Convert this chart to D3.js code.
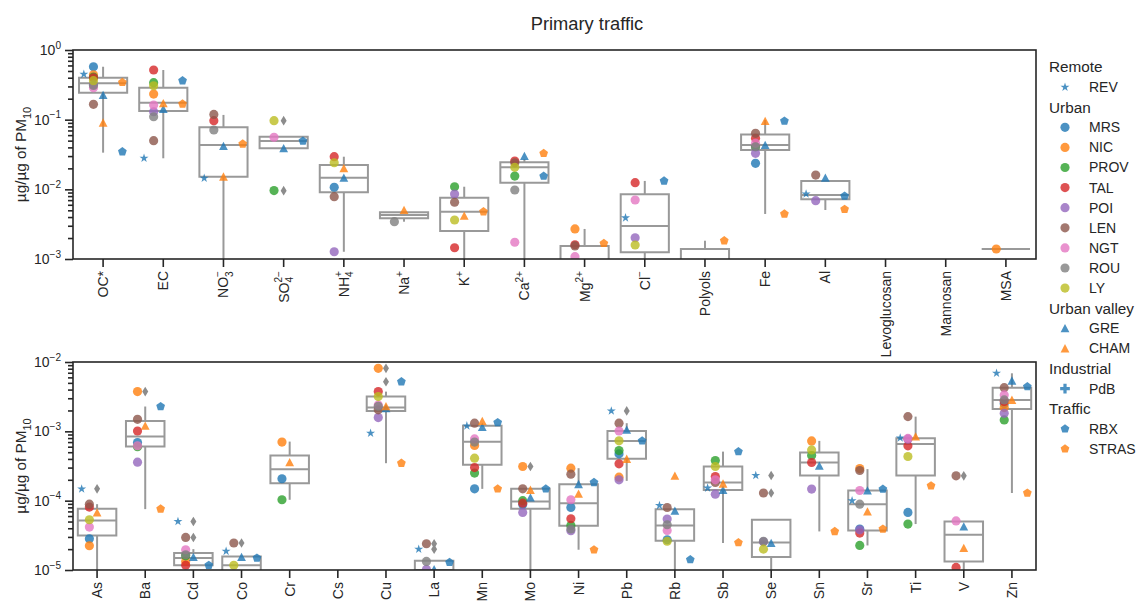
<!DOCTYPE html>
<html>
<head>
<meta charset="utf-8">
<script src="https://cdn.jsdelivr.net/npm/d3@7"></script>
<style>
  body { margin: 0; background: #fff; }
  text { font-family: "Liberation Sans", Arial, sans-serif; fill: #262626; }
</style>
</head>
<body>
<div id="chart"></div>
<script>
'use strict';

// categories + tick label pieces (sub / sup) for the two panels
const topCats = ["OC*", "EC", "NO", "SO", "NH", "Na", "K", "Ca", "Mg", "Cl", "Polyols", "Fe", "Al", "Levoglucosan", "Mannosan", "MSA"];
const topSub  = ["", "", "3", "4", "4", "", "", "", "", "", "", "", "", "", "", ""];
const topSup  = ["", "", "\u2212", "2\u2212", "+", "+", "+", "2+", "2+", "\u2212", "", "", "", "", "", ""];
const botCats = ["As", "Ba", "Cd", "Co", "Cr", "Cs", "Cu", "La", "Mn", "Mo", "Ni", "Pb", "Rb", "Sb", "Se", "Sn", "Sr", "Ti", "V", "Zn"];

const topTicks = [1e-3, 1e-2, 1e-1, 1];
const topTickExp = ["\u22123", "\u22122", "\u22121", "0"];
const botTicks = [1e-5, 1e-4, 1e-3, 1e-2];
const botTickExp = ["\u22125", "\u22124", "\u22123", "\u22122"];

// box statistics (q1, median, q3, whisker low, whisker high) + fliers
const topQ1  = [0.244, 0.133, 0.0152, 0.0388, 0.00906, 0.00383, 0.00252, 0.01245, 0.0006, 0.00125, 0.0005, 0.0367, 0.0072, null, null, 0.00139];
const topMed = [0.333, 0.175, 0.0433, 0.0494, 0.0147, 0.00428, 0.00478, 0.0207, 0.0009, 0.00298, 0.0008, 0.0433, 0.00829, null, null, 0.00139];
const topQ3  = [0.40, 0.288, 0.0776, 0.057, 0.0223, 0.00468, 0.00759, 0.0244, 0.00154, 0.00848, 0.00139, 0.0615, 0.0132, null, null, 0.00139];
const topLo  = [0.0336, 0.0279, 0.0002, 0.0388, 0.00127, 0.00343, 0.0002, 0.0002, 0.0002, 0.0002, 0.0002, 0.00443, 0.00505, null, null, 0.00139];
const topHi  = [0.575, 0.516, 0.117, 0.057, 0.0294, 0.00468, 0.0109, 0.027, 0.0027, 0.0132, 0.00183, 0.0989, 0.0132, null, null, 0.00139];
const topFliers = [[], [], [], [0.0968, 0.00957], [], [], [], [], [], [], [], [], [], [], [], []];

const botQ1  = [3.15e-5, 6.03e-4, 1.17e-5, 9e-6, 1.79e-4, null, 1.97e-3, 8e-6, 3.29e-4, 7.63e-5, 4.35e-5, 4.01e-4, 2.64e-5, 1.43e-4, 1.54e-5, 2.31e-4, 3.72e-5, 2.31e-4, 1.33e-5, 2.1e-3];
const botMed = [5.19e-5, 8.4e-4, 1.49e-5, 1.17e-5, 2.85e-4, null, 2.2e-3, 1.0e-5, 7.1e-4, 9.7e-5, 9.2e-5, 7.28e-4, 4.4e-5, 1.83e-4, 2.5e-5, 3.55e-4, 8.9e-5, 6.59e-4, 3.23e-5, 2.84e-3];
const botQ3  = [7.63e-5, 1.41e-3, 1.76e-5, 1.57e-5, 4.48e-4, null, 3.17e-3, 1.36e-5, 1.2e-3, 1.48e-4, 1.73e-4, 1.01e-3, 7.55e-5, 3.11e-4, 5.31e-5, 4.94e-4, 1.4e-4, 7.96e-4, 5.0e-5, 4.26e-3];
const botLo  = [1e-6, 7.55e-5, 1.17e-5, 8e-6, 1.03e-4, null, 3.47e-4, 7e-6, 1.48e-4, 1e-6, 1.96e-5, 1.93e-4, 1e-6, 2.45e-5, 1e-6, 3.6e-5, 2.26e-5, 4.6e-5, 1e-6, 1.29e-4];
const botHi  = [8.9e-5, 2.28e-3, 2.0e-5, 1.57e-5, 7.11e-4, null, 3.74e-3, 1.36e-5, 1.2e-3, 1.48e-4, 2.94e-4, 1.31e-3, 7.55e-5, 5.1e-4, 5.31e-5, 7.28e-4, 2.85e-4, 1.63e-3, 5.0e-5, 6.87e-3];
const botFliers = [[1.48e-4], [3.74e-3], [5.0e-5, 2.95e-5], [2.45e-5], [], [], [8.1e-3, 5.2e-3], [2.39e-5, 2.0e-5], [], [3.11e-4], [], [1.97e-3], [], [], [2.31e-4, 1.29e-4], [], [], [], [2.28e-4], []];

// site values, top panel (same order as topCats)
const revTop   = [0.448, 0.028, 0.0144, null, null, null, null, null, null, 0.0039, null, null, 0.0086, null, null, null];
const mrsTop   = [0.575, null, null, null, 0.0107, null, null, null, null, null, null, 0.0236, null, null, null, null];
const nicTop   = [0.44, 0.233, null, null, null, null, null, null, 0.0027, null, null, null, null, null, null, 0.00139];
const provTop  = [0.41, 0.34, null, 0.0096, null, null, 0.0109, 0.0155, null, null, null, 0.041, null, null, null, null];
const talTop   = [0.40, 0.516, 0.0968, null, 0.0294, null, 0.00145, 0.0255, 0.0016, 0.01245, null, 0.054, null, null, null, null];
const poiTop   = [0.32, 0.13, null, null, 0.00127, null, 0.00857, null, null, 0.00202, null, 0.0329, 0.00687, null, null, null];
const lenTop   = [0.166, 0.05, 0.119, null, 0.00785, null, 0.00652, 0.024, 0.00154, null, null, 0.0637, 0.016, null, null, null];
const ngtTop   = [0.288, 0.162, null, 0.0558, null, null, null, 0.00174, 0.00108, 0.00703, null, 0.0457, null, null, null, null];
const rouTop   = [0.31, 0.11, 0.071, null, null, 0.00343, null, 0.00978, null, null, null, 0.0409, null, null, null, null];
const lyTop    = [0.363, 0.307, null, 0.0968, 0.0241, null, 0.00363, 0.0207, null, 0.00159, null, null, null, null, null, null];
const greTop   = [0.226, 0.142, 0.0419, 0.0388, 0.0147, null, null, 0.0301, null, null, null, 0.0433, 0.0147, null, null, null];
const chamTop  = [0.0906, 0.172, 0.0152, null, 0.02, 0.00505, 0.00418, null, null, null, null, 0.0957, null, null, null, null];
const pdbTop   = [null, null, null, null, null, null, null, null, null, null, null, null, null, null, null, null];
const rbxTop   = [0.0347, 0.363, null, 0.0494, null, null, null, 0.0155, null, 0.0132, null, 0.0957, 0.00802, null, null, null];
const strasTop = [0.343, 0.168, 0.0448, null, null, null, 0.00478, 0.0329, 0.00168, null, 0.00183, 0.00443, 0.00517, null, null, null];

// site values, bottom panel (same order as botCats)
const revBot   = [1.48e-4, null, 5.0e-5, 1.86e-5, null, null, 9.4e-4, 2.0e-5, 1.2e-3, null, null, 1.97e-3, 8.5e-5, 1.52e-4, 2.31e-4, null, 9.96e-5, 8.0e-4, null, 6.87e-3];
const mrsBot   = [2.82e-5, 6.89e-4, null, null, 2.07e-4, null, null, null, 1.48e-4, 8.8e-5, 7.98e-5, 4.73e-4, 2.73e-5, null, null, null, 3.9e-5, 6.76e-5, null, 2.5e-3];
const nicBot   = [2.24e-5, 3.74e-3, 1.33e-5, null, 7.0e-4, null, 8.1e-3, null, 6.24e-4, 3.11e-4, 2.94e-4, 2.18e-4, null, null, null, 7.28e-4, 2.9e-4, null, null, 2.2e-3];
const provBot  = [null, 6.0e-4, 1.6e-5, null, 1.03e-4, null, null, null, 2.5e-4, 1.0e-4, 4.4e-5, 5.28e-4, null, 3.79e-4, null, 4.48e-4, 2.26e-5, 4.6e-5, null, 1.46e-3];
const talBot   = [8.07e-5, 1.01e-3, 1.17e-5, null, null, null, 3.74e-3, null, 3.0e-4, 9.2e-5, 5.48e-5, 3.4e-4, null, 2.23e-4, null, 3.55e-4, 3.41e-5, 6.17e-4, 1.09e-5, 2.7e-3];
const poiBot   = [null, 3.59e-4, null, null, null, null, 1.58e-3, 1.02e-5, null, 6.76e-5, 3.68e-5, 2.0e-4, 5.43e-5, 1.24e-4, 2.55e-5, 1.47e-4, 3.8e-5, 7.7e-4, null, 1.82e-3];
const lenBot   = [8.9e-5, 1.49e-3, 2.95e-5, 2.45e-5, null, null, 2.04e-3, 2.39e-5, 1.31e-3, 1.48e-4, 2.41e-4, 1.31e-3, 7.98e-5, 1.83e-4, 1.29e-4, null, 2.72e-4, 1.63e-3, 2.28e-4, 4.26e-3];
const ngtBot   = [4.16e-5, 6.2e-4, 1.96e-5, null, null, null, 2.4e-3, null, 7.78e-4, null, 1.03e-4, 1.01e-3, 3.72e-5, 2.0e-4, null, null, 1.4e-4, 7.9e-4, 5.1e-5, 3.35e-3];
const rouBot   = [null, null, 1.66e-5, null, null, null, 2.3e-3, 1.33e-5, 7.0e-4, null, 3.9e-5, null, 4.5e-5, null, 2.6e-5, null, 8.9e-5, null, null, 2.84e-3];
const lyBot    = [5.31e-5, null, null, 1.17e-5, null, null, 3.17e-3, null, 4.1e-4, null, null, 7.3e-4, 2.6e-5, 3.11e-4, 2.0e-5, 5.4e-4, null, 4.33e-4, null, null];
const greBot   = [null, null, 1.54e-5, 1.54e-5, null, null, 2.15e-3, 1.02e-5, 1.15e-3, 1.11e-4, 1.73e-4, 1.05e-3, 7.14e-5, 1.43e-4, 2.45e-5, 3.18e-4, 1.4e-4, null, 4.25e-5, 5.38e-3];
const chamBot  = [6.76e-5, 1.2e-3, null, null, 3.59e-4, null, 2.3e-3, null, 1.41e-3, 1.43e-4, 1.26e-4, 4.0e-4, 2.28e-4, 1.76e-4, null, null, 6.98e-5, 8.4e-4, 2.07e-5, 2.84e-3];
const pdbBot   = [null, null, null, null, null, null, null, null, null, null, null, null, null, null, null, null, null, null, null, null];
const rbxBot   = [null, 2.28e-3, 1.17e-5, 1.49e-5, null, null, 5.2e-3, 1.29e-5, 1.34e-3, 1.48e-4, 1.83e-4, 7.28e-4, 1.41e-5, 5.1e-4, null, null, 1.47e-4, null, null, 4.42e-3];
const strasBot = [null, 7.6e-5, null, null, null, null, 3.47e-4, null, 1.48e-4, null, 1.96e-5, null, null, 2.48e-5, null, 3.6e-5, 3.9e-5, 1.64e-4, null, 1.29e-4];

const groupNames = ["Remote", "Urban", "Urban valley", "Industrial", "Traffic"];

const sites = [
  {name: "REV",   group: 0, color: "#1f77b4", shape: "star",     top: revTop,   bot: revBot},
  {name: "MRS",   group: 1, color: "#1f77b4", shape: "circle",   top: mrsTop,   bot: mrsBot},
  {name: "NIC",   group: 1, color: "#ff7f0e", shape: "circle",   top: nicTop,   bot: nicBot},
  {name: "PROV",  group: 1, color: "#2ca02c", shape: "circle",   top: provTop,  bot: provBot},
  {name: "TAL",   group: 1, color: "#d62728", shape: "circle",   top: talTop,   bot: talBot},
  {name: "POI",   group: 1, color: "#9467bd", shape: "circle",   top: poiTop,   bot: poiBot},
  {name: "LEN",   group: 1, color: "#8c564b", shape: "circle",   top: lenTop,   bot: lenBot},
  {name: "NGT",   group: 1, color: "#e377c2", shape: "circle",   top: ngtTop,   bot: ngtBot},
  {name: "ROU",   group: 1, color: "#7f7f7f", shape: "circle",   top: rouTop,   bot: rouBot},
  {name: "LY",    group: 1, color: "#bcbd22", shape: "circle",   top: lyTop,    bot: lyBot},
  {name: "GRE",   group: 2, color: "#1f77b4", shape: "triangle", top: greTop,   bot: greBot},
  {name: "CHAM",  group: 2, color: "#ff7f0e", shape: "triangle", top: chamTop,  bot: chamBot},
  {name: "PdB",   group: 3, color: "#1f77b4", shape: "plus",     top: pdbTop,   bot: pdbBot},
  {name: "RBX",   group: 4, color: "#1f77b4", shape: "pentagon", top: rbxTop,   bot: rbxBot},
  {name: "STRAS", group: 4, color: "#ff7f0e", shape: "pentagon", top: strasTop, bot: strasBot}
];

const width = 1136, height = 601;
const X0 = 73, X1 = 1036;
const axisColor = "#262626", boxColor = "#999999", flierColor = "#8c8c8c";

const svg = d3.select("#chart").append("svg")
    .attr("width", width)
    .attr("height", height);

function polygon(n, r, rot) {
  const pts = d3.range(n).map(function(k) {
    const a = rot + k * 2 * Math.PI / n;
    return [r * Math.cos(a), r * Math.sin(a)];
  });
  return "M" + pts.map(function(p) { return p[0].toFixed(2) + "," + p[1].toFixed(2); }).join("L") + "Z";
}

function marker(shape) {
  switch (shape) {
    case "circle":   return d3.symbol(d3.symbolCircle, 66)();
    case "star":     return d3.symbol(d3.symbolStar, 25)();
    case "plus":     return d3.symbol(d3.symbolCross, 52)();
    case "triangle": return "M0,-4.3L4.4,4L-4.4,4Z";
    case "pentagon": return polygon(5, 4.6, -Math.PI / 2);
    case "diamond":  return "M0,-4.8L3,0L0,4.8L-3,0Z";
  }
}

// small helper for text with stacked sub / superscript
function mathLabel(sel, base, sub, sup, size) {
  const small = size * 0.72;
  sel.append("tspan").text(base);
  if (sub) sel.append("tspan").attr("font-size", small).attr("dy", size * 0.3).text(sub);
  if (sup) {
    const t = sel.append("tspan").attr("font-size", small).text(sup);
    if (sub) t.attr("dx", -small * 0.556 * sub.length).attr("dy", -size * 0.8);
    else t.attr("dy", -size * 0.45);
  }
}

function drawPanel(cats, sub, sup, q1, med, q3, lo, hi, fliers, key, y0, y1, ticks, tickExp) {
  const x = d3.scaleBand().domain(cats).range([X0, X1]);
  const y = d3.scaleLog().domain([ticks[0], ticks[ticks.length - 1]]).range([y1, y0]);
  const bw = x.bandwidth();

  svg.append("clipPath").attr("id", "clip-" + key)
    .append("rect")
      .attr("x", X0).attr("y", y0)
      .attr("width", X1 - X0).attr("height", y1 - y0);

  const plot = svg.append("g").attr("clip-path", "url(#clip-" + key + ")");

  // boxes
  cats.forEach(function(c, i) {
    if (q1[i] == null) return;
    const cx = x(c) + bw / 2, hw = bw * 0.4;
    plot.append("line")
      .attr("x1", cx).attr("x2", cx)
      .attr("y1", y(q3[i])).attr("y2", y(hi[i]))
      .attr("stroke", boxColor).attr("stroke-width", 2);
    plot.append("line")
      .attr("x1", cx).attr("x2", cx)
      .attr("y1", y(q1[i])).attr("y2", y(lo[i]))
      .attr("stroke", boxColor).attr("stroke-width", 2);
    plot.append("path")
      .attr("d", "M" + (cx - hw) + "," + y(q3[i]) + "H" + (cx + hw) + "V" + y(q1[i]) + "H" + (cx - hw) + "Z")
      .attr("fill", "none").attr("stroke", boxColor).attr("stroke-width", 2);
    plot.append("line")
      .attr("x1", cx - hw).attr("x2", cx + hw)
      .attr("y1", y(med[i])).attr("y2", y(med[i]))
      .attr("stroke", boxColor).attr("stroke-width", 2);
    fliers[i].forEach(function(v) {
      plot.append("path")
        .attr("d", marker("diamond"))
        .attr("transform", "translate(" + cx + "," + y(v) + ")")
        .attr("fill", flierColor);
    });
  });

  // site points, dodged by site group
  sites.forEach(function(s) {
    s[key].forEach(function(v, i) {
      if (v == null) return;
      const cx = x(cats[i]) + bw / 2 + (s.group - 2) * 0.16 * bw;
      plot.append("path")
        .attr("d", marker(s.shape))
        .attr("transform", "translate(" + cx + "," + y(v) + ")")
        .attr("fill", s.color)
        .attr("fill-opacity", 0.8);
    });
  });

  // axes
  const minors = [];
  ticks.slice(0, -1).forEach(function(d) {
    for (let k = 2; k <= 9; k++) minors.push(k * d);
  });

  svg.append("g")
    .attr("transform", "translate(" + X0 + ",0)")
    .call(d3.axisLeft(y).tickValues(ticks).tickSize(8).tickFormat(""))
    .call(function(g) { g.select(".domain").remove(); });
  svg.append("g")
    .attr("transform", "translate(" + X0 + ",0)")
    .call(d3.axisLeft(y).tickValues(minors).tickSize(5).tickFormat(""))
    .call(function(g) { g.select(".domain").remove(); });
  svg.append("g")
    .attr("transform", "translate(0," + y1 + ")")
    .call(d3.axisBottom(x).tickSize(8).tickFormat(""))
    .call(function(g) { g.select(".domain").remove(); });
  svg.selectAll(".tick line").attr("stroke", axisColor).attr("stroke-width", 1.6);

  svg.append("rect")
    .attr("x", X0).attr("y", y0)
    .attr("width", X1 - X0).attr("height", y1 - y0)
    .attr("fill", "none").attr("stroke", axisColor).attr("stroke-width", 1.6);

  // y tick labels 10^n
  ticks.forEach(function(t, i) {
    svg.append("text")
      .attr("x", 61).attr("y", y(t) + 5)
      .attr("text-anchor", "end")
      .attr("font-size", 14)
      .call(mathLabel, "10", "", tickExp[i], 14);
  });

  // x tick labels, rotated
  cats.forEach(function(c, i) {
    svg.append("text")
      .attr("transform", "translate(" + (x(c) + bw / 2) + "," + (y1 + 12) + ") rotate(-90)")
      .attr("text-anchor", "end")
      .attr("y", 5)
      .attr("font-size", 14)
      .call(mathLabel, c, sub ? sub[i] : "", sup ? sup[i] : "", 14);
  });

  // y axis title
  svg.append("text")
    .attr("transform", "translate(26," + (y0 + y1) / 2 + ") rotate(-90)")
    .attr("text-anchor", "middle")
    .attr("font-size", 15.3)
    .call(mathLabel, "\u00b5g/\u00b5g of PM", "10", "", 15.3);
}

drawPanel(topCats, topSub, topSup, topQ1, topMed, topQ3, topLo, topHi, topFliers, "top", 50, 259, topTicks, topTickExp);
drawPanel(botCats, null, null, botQ1, botMed, botQ3, botLo, botHi, botFliers, "bot", 362, 570, botTicks, botTickExp);

// title
svg.append("text")
  .attr("x", 587).attr("y", 30)
  .attr("text-anchor", "middle")
  .attr("font-size", 18.3)
  .text("Primary traffic");

// legend: group titles followed by their sites
let row = 0;
const legend = svg.append("g");
groupNames.forEach(function(gName, gi) {
  legend.append("text")
    .attr("x", 1049).attr("y", 67 + row * 20.1)
    .attr("dy", "0.35em")
    .attr("font-size", 15.3)
    .text(gName);
  row++;
  sites.filter(function(s) { return s.group === gi; }).forEach(function(s) {
    const yy = 67 + row * 20.1;
    legend.append("path")
      .attr("d", marker(s.shape))
      .attr("transform", "translate(1065," + yy + ")")
      .attr("fill", s.color)
      .attr("fill-opacity", 0.8);
    legend.append("text")
      .attr("x", 1089).attr("y", yy)
      .attr("dy", "0.35em")
      .attr("font-size", 14)
      .text(s.name);
    row++;
  });
});
</script>
</body>
</html>
